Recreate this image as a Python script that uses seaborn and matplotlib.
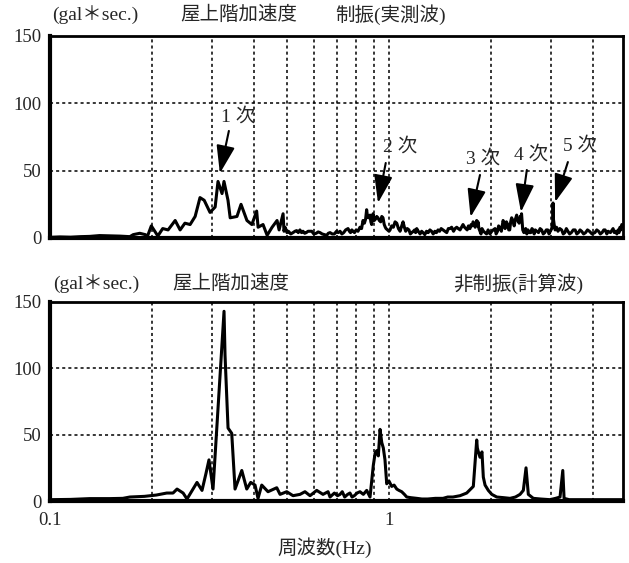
import matplotlib
matplotlib.use("Agg")
import matplotlib.pyplot as plt
import seaborn as sns
import pandas as pd

# ---- data (frequency in Hz, amplitude in gal*sec) ----
top_freq = [0.100, 0.107, 0.115, 0.123, 0.131, 0.136, 0.140, 0.150, 0.161, 0.172,
            0.176, 0.184, 0.191, 0.194, 0.199, 0.208, 0.215, 0.223, 0.234, 0.242,
            0.250, 0.259, 0.268, 0.277, 0.285, 0.2965, 0.307, 0.313, 0.3217, 0.326,
            0.335, 0.340, 0.356, 0.366, 0.381, 0.394, 0.407, 0.411, 0.425, 0.437,
            0.452, 0.4675, 0.474, 0.487,
            0.490, 0.4935, 0.500, 0.505, 0.513, 0.521, 0.528, 0.534, 0.540, 0.546,
            0.552, 0.5575, 0.564, 0.570, 0.577, 0.585, 0.5916, 0.600, 0.610, 0.618,
            0.626, 0.635, 0.645, 0.655, 0.662, 0.670, 0.680, 0.690, 0.700, 0.708,
            0.717, 0.726, 0.735, 0.745, 0.757, 0.764, 0.770, 0.777, 0.783, 0.791,
            0.800, 0.810, 0.821, 0.830, 0.838, 0.846, 0.853, 0.859, 0.864, 0.870,
            0.879, 0.884, 0.889, 0.893, 0.897, 0.905, 0.912, 0.920, 0.928, 0.936,
            0.945, 0.952, 0.960, 0.968, 0.975, 0.980, 0.990, 1.000, 1.007, 1.018,
            1.030, 1.042, 1.054, 1.066, 1.078, 1.090, 1.100, 1.110, 1.120, 1.132,
            1.145, 1.156, 1.167, 1.180, 1.190, 1.198, 1.207, 1.220, 1.235, 1.248,
            1.260, 1.275, 1.290, 1.305, 1.320, 1.335, 1.350, 1.365, 1.380, 1.395,
            1.410, 1.425, 1.443, 1.460, 1.480, 1.496, 1.513, 1.530, 1.550, 1.566,
            1.584, 1.600, 1.620, 1.637, 1.653, 1.670, 1.685, 1.700, 1.715, 1.733,
            1.746, 1.760, 1.770, 1.780, 1.795, 1.814, 1.822, 1.830, 1.842, 1.855,
            1.868, 1.880, 1.900, 1.920, 1.940, 1.960, 1.985, 2.010, 2.030, 2.055,
            2.070, 2.090, 2.105, 2.120, 2.145, 2.170, 2.185, 2.200, 2.220, 2.240,
            2.255, 2.270, 2.285, 2.300, 2.320, 2.340, 2.360, 2.380, 2.400, 2.420,
            2.430, 2.440, 2.450, 2.460, 2.470, 2.480, 2.500, 2.515, 2.530, 2.550,
            2.570, 2.595, 2.620, 2.640, 2.660, 2.680, 2.700, 2.730, 2.760, 2.790,
            2.820, 2.850, 2.880, 2.910, 2.940, 2.965, 2.990, 3.020, 3.040, 3.047,
            3.055, 3.070, 3.090, 3.120, 3.150, 3.190, 3.230, 3.265, 3.300, 3.335,
            3.370, 3.410, 3.450, 3.495, 3.540, 3.580, 3.620, 3.660, 3.700, 3.750,
            3.800, 3.850, 3.900, 3.970, 4.050, 4.100, 4.150, 4.200, 4.250, 4.300,
            4.340, 4.390, 4.430, 4.500, 4.580, 4.620, 4.660, 4.700, 4.740, 4.770,
            4.800, 4.830, 4.860, 4.900]
top_amp = [0.5, 0.8, 0.6, 1.0, 1.2, 1.5, 1.8, 1.6, 1.4, 1.0,
           2.5, 3.5, 2.5, 1.5, 9.0, 1.5, 7.0, 6.0, 13.0, 6.0,
           11.0, 10.0, 16.0, 30.0, 28.0, 19.0, 23.0, 42.0, 33.0, 42.0,
           28.0, 15.0, 16.0, 25.0, 13.0, 10.0, 20.0, 8.0, 10.0, 2.0,
           8.0, 13.0, 6.0, 18.0,
           5.0, 8.0, 4.0, 5.0, 3.0, 4.0, 5.0, 5.5, 4.0, 6.0,
           4.0, 5.0, 3.5, 4.0, 5.0, 5.0, 5.0, 3.0, 3.5, 4.5,
           4.0, 3.0, 2.5, 2.0, 3.5, 4.0, 3.0, 3.0, 5.0, 4.0,
           5.0, 3.0, 4.0, 6.0, 7.0, 5.0, 4.0, 6.0, 5.0, 4.0,
           6.0, 5.0, 8.0, 7.0, 13.0, 11.0, 14.0, 21.0, 16.0, 15.0,
           17.0, 12.0, 10.0, 16.0, 18.0, 13.0, 14.0, 16.0, 15.0, 13.0,
           12.0, 16.0, 15.0, 10.0, 8.0, 7.0, 6.0, 5.0, 6.0, 9.0,
           8.0, 12.0, 11.0, 7.0, 5.0, 9.0, 12.0, 8.0, 5.0, 7.0,
           6.0, 3.0, 4.0, 5.0, 6.0, 4.0, 7.0, 5.0, 3.0, 5.0,
           4.0, 2.5, 5.0, 4.0, 6.0, 5.0, 3.0, 5.0, 4.0, 6.0,
           5.0, 7.0, 6.0, 5.0, 4.0, 7.0, 7.0, 8.0, 5.0, 7.0,
           8.0, 7.0, 6.0, 8.0, 10.0, 8.0, 7.0, 6.0, 9.0, 7.0,
           10.0, 9.0, 12.0, 11.0, 8.0, 13.0, 9.0, 12.0, 7.0, 5.0,
           3.0, 7.0, 5.0, 4.0, 3.0, 6.0, 3.0, 5.0, 6.0, 7.0,
           3.0, 5.0, 9.0, 8.0, 5.0, 13.0, 11.0, 7.0, 12.0, 10.0,
           6.0, 6.0, 12.0, 15.0, 13.0, 9.0, 14.0, 17.0, 13.0, 11.0,
           14.0, 16.0, 15.0, 18.0, 12.0, 6.0, 4.0, 6.0, 7.0, 3.0,
           6.0, 4.0, 4.0, 7.0, 6.0, 3.0, 6.0, 5.0, 4.0, 7.0,
           6.0, 3.0, 4.0, 6.0, 6.0, 3.0, 5.0, 7.0, 12.0, 26.0,
           14.0, 10.0, 6.0, 8.0, 5.0, 7.0, 6.0, 3.0, 4.0, 7.0,
           5.0, 3.0, 4.0, 6.0, 6.0, 3.0, 4.0, 6.0, 5.0, 3.0,
           4.0, 6.0, 5.0, 3.0, 4.0, 6.0, 5.0, 3.0, 4.0, 6.0,
           6.0, 3.0, 5.0, 4.0, 7.0, 4.0, 5.0, 3.0, 6.0, 4.0,
           8.0, 6.0, 10.0, 9.0]

bot_freq = [0.100, 0.115, 0.131, 0.150, 0.164, 0.172, 0.190, 0.206, 0.221, 0.2306,
            0.237, 0.247, 0.2536, 0.2714, 0.2808, 0.2886, 0.2944, 0.3026, 0.3261, 0.3283,
            0.3351, 0.3436, 0.3514, 0.3679, 0.3805, 0.3909, 0.4025, 0.4108, 0.4213, 0.4396,
            0.4665, 0.4771, 0.4992, 0.5210, 0.5463, 0.5651, 0.5848, 0.6119, 0.6387, 0.6609,
            0.6699, 0.6900, 0.705, 0.717, 0.728, 0.740, 0.755, 0.767, 0.778, 0.790,
            0.805, 0.821, 0.840, 0.8594, 0.879, 0.899,
            0.910, 0.920, 0.930, 0.941, 0.952, 0.962, 0.973, 0.9845, 1.000, 1.0185,
            1.035, 1.054, 1.070, 1.090, 1.110, 1.128, 1.160, 1.207, 1.250, 1.300,
            1.370, 1.443, 1.490, 1.544, 1.620, 1.695, 1.7729, 1.8142, 1.822, 1.830,
            1.855, 1.880, 1.8975, 1.920, 1.963, 2.010, 2.079, 2.180, 2.275, 2.360,
            2.435, 2.490, 2.536, 2.576, 2.665, 2.800, 2.985, 3.100, 3.195, 3.255,
            3.284, 3.400, 3.580, 4.000, 4.490, 4.900]
bot_amp = [1.0, 1.2, 1.8, 1.8, 2.0, 3.0, 3.5, 4.5, 6.0, 6.0,
           9.0, 6.0, 1.5, 14.0, 8.0, 21.0, 31.0, 9.0, 143.0, 110.0,
           55.0, 51.0, 9.0, 23.0, 9.0, 14.0, 12.0, 2.0, 12.0, 7.0,
           10.0, 5.0, 7.0, 4.0, 5.0, 7.0, 4.0, 8.0, 5.0, 7.0,
           3.0, 6.0, 4.0, 5.0, 7.0, 3.0, 5.0, 6.0, 3.0, 4.0,
           6.0, 7.0, 5.0, 8.0, 3.0, 27.0,
           36.0, 38.0, 34.0, 54.0, 44.0, 40.0, 31.0, 13.0, 15.0, 11.0,
           12.0, 9.0, 8.0, 7.0, 5.0, 3.0, 2.5, 2.0, 1.5, 1.5,
           2.0, 2.0, 3.0, 3.0, 4.0, 6.0, 11.0, 46.0, 40.0, 38.0,
           33.0, 37.0, 18.0, 12.0, 8.0, 5.0, 3.0, 2.5, 2.0, 3.0,
           5.0, 8.0, 25.0, 5.0, 2.0, 1.5, 1.0, 2.0, 3.0, 23.0,
           2.0, 1.0, 1.0, 1.0, 1.0, 1.0]

y_ticks = [0, 50, 100, 150]
grid_x = [0.2, 0.3, 0.4, 0.5, 0.6, 0.7, 0.8, 0.9, 1, 2, 3, 4]
x_tick_vals = [0.1, 1]
x_tick_labels = ["0.1", "1"]

mode_labels = ["1 次", "2 次", "3 次", "4 次", "5 次"]
mode_text_xy = [(0.3587, 90), (1.077, 67.6), (1.89, 58.7), (2.63, 61.6), (3.65, 68.3)]
mode_tail_xy = [(0.337, 79.5), (0.978, 55.7), (1.855, 46.8), (2.55, 50.5), (3.37, 56.4)]
mode_tip_xy = [(0.317, 48), (0.928, 26), (1.74, 15.6), (2.45, 19.3), (3.09, 26.7)]

top_title = ["(gal＊sec.)", "屋上階加速度", "制振(実測波)"]
bot_title = ["(gal＊sec.)", "屋上階加速度", "非制振(計算波)"]
x_label = "周波数(Hz)"

# ---- style ----
sns.set_style("white")
FAM = ["Liberation Serif", "Noto Sans CJK JP", "DejaVu Sans"]
plt.rcParams["font.family"] = FAM

W, H = 629, 563
fig = plt.figure(figsize=(W / 100, H / 100), dpi=100)
ax_top = fig.add_axes([50 / W, 1 - 238 / H, 573 / W, 202 / H])
ax_bot = fig.add_axes([50 / W, 1 - 501 / H, 573 / W, 199 / H])

df_top = pd.DataFrame({"f": top_freq, "a": top_amp})
df_bot = pd.DataFrame({"f": bot_freq, "a": bot_amp})

sns.lineplot(data=df_top, x="f", y="a", ax=ax_top, color="black", linewidth=2.2,
             estimator=None, sort=False, zorder=3)
sns.lineplot(data=df_bot, x="f", y="a", ax=ax_bot, color="black", linewidth=2.2,
             estimator=None, sort=False, zorder=3)

for ax in (ax_top, ax_bot):
    ax.set_xscale("log")
    ax.set_xlim(0.1, 4.9)
    ax.set_ylim(0, 150)
    ax.set_yticks(y_ticks)
    ax.set_yticklabels([str(v) for v in y_ticks], fontsize=13.5)
    ax.tick_params(axis="both", length=0, pad=6)
    ax.set_xlabel("")
    ax.set_ylabel("")
    ax.minorticks_off()
    for gx in grid_x:
        ax.axvline(gx, color="black", linestyle=(0, (2, 2)), linewidth=1.1, zorder=1)
    for gy in [50, 100]:
        ax.axhline(gy, color="black", linestyle=(0, (2, 2)), linewidth=1.1, zorder=1)
    for side in ("top", "right"):
        ax.spines[side].set_linewidth(2.0)
        ax.spines[side].set_color("black")
    for side in ("left", "bottom"):
        ax.spines[side].set_linewidth(3.0)
        ax.spines[side].set_color("black")

ax_top.set_xticks([])
ax_bot.set_xticks(x_tick_vals)
ax_bot.set_xticklabels(x_tick_labels, fontsize=13.5)
ax_bot.tick_params(axis="x", pad=8)

# titles
def put_title(y_px, parts, xs):
    for x, t in zip(xs, parts):
        fig.text(x / W, 1 - y_px / H, t, fontsize=14, ha="left", va="center",
                 family=FAM)

put_title(15, top_title, [52, 180, 335])
put_title(284, bot_title, [53, 172, 453])
fig.text(325 / W, 1 - 548 / H, x_label, fontsize=14, ha="center", va="center", family=FAM)

# mode annotations
for lab, txy, tail, tip in zip(mode_labels, mode_text_xy, mode_tail_xy, mode_tip_xy):
    ax_top.text(txy[0], txy[1], lab, fontsize=14, ha="center", va="center", family=FAM)
    ax_top.annotate("", xy=tip, xytext=tail,
                    arrowprops=dict(arrowstyle="-|>,head_length=0.9,head_width=0.3",
                                    color="black", lw=1.5, mutation_scale=19,
                                    shrinkA=0, shrinkB=0), zorder=4)

fig.savefig("out.png", dpi=100)
